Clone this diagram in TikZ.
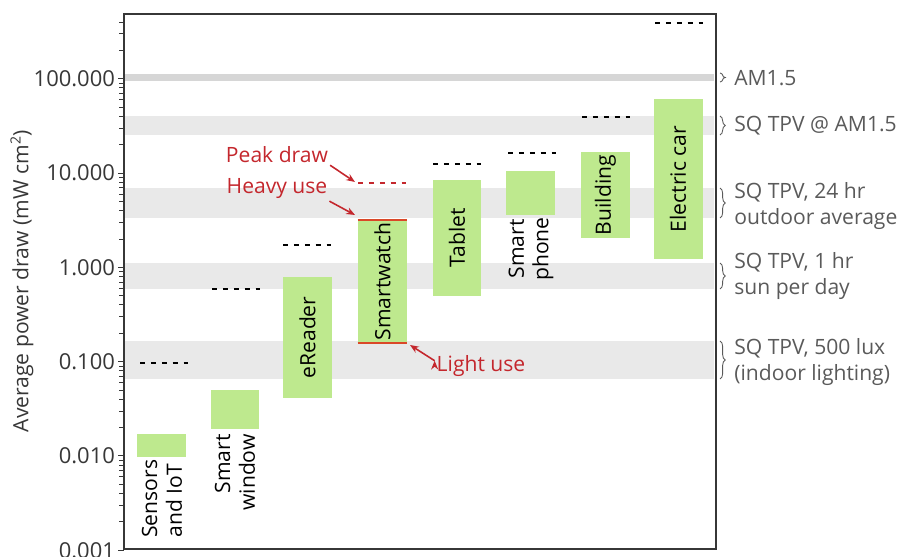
\documentclass[tikz,border=0pt]{standalone}
\usepackage{fontspec}
\setmainfont{Open Sans}
\usepackage{tikz}
\usetikzlibrary{positioning}
\usetikzlibrary{arrows.meta}
\usetikzlibrary{decorations.pathreplacing}
\definecolor{barg}{RGB}{190,233,142}
\definecolor{bandg}{RGB}{233,233,233}
\definecolor{amg}{RGB}{214,214,214}
\definecolor{annot}{RGB}{196,39,45}
\definecolor{usec}{RGB}{218,72,40}
\definecolor{axisg}{RGB}{55,55,55}
\definecolor{labelg}{RGB}{90,90,90}
\tikzstyle{bar}=[fill=barg, rotate=90, inner sep=0pt, minimum height=0.98cm, font=\fontsize{12}{14}\selectfont]
\tikzstyle{lab}=[rotate=90, inner sep=0pt, font=\fontsize{12}{14}\selectfont]
\tikzstyle{peak}=[draw=black, dash pattern=on 2.8pt off 3.4pt, line width=0.7pt]
\tikzstyle{useline}=[draw=usec, line width=1pt]
\tikzstyle{note}=[text=annot, inner sep=1pt, font=\fontsize{12}{14}\selectfont]
\tikzstyle{arr}=[-{Stealth[length=5pt,width=4pt]}, draw=annot, line width=0.9pt]
\tikzstyle{side}=[anchor=west, text=labelg, align=left, inner sep=0pt, font=\fontsize{12}{15}\selectfont]
\tikzstyle{brc}=[draw=labelg, line width=0.5pt, decorate, decoration={brace, amplitude=3pt}]
\def\tpv{SQ TPV}

\begin{document}
\begin{tikzpicture}[x=0.02cm, y=-0.02cm]
      \useasboundingbox (0,0) rectangle (903,557);
      % bands
      \fill[amg] (125,74) rectangle (714,81);
      \fill[bandg] (125,116) rectangle (714,135);
      \fill[bandg] (125,188) rectangle (714,218);
      \fill[bandg] (125,263) rectangle (714,289);
      \fill[bandg] (125,341) rectangle (714,379);

      % axes
      \draw[axisg, line width=0.6pt] (124,14) rectangle (716,549);
      \foreach \v/\t in {2/100.000, 1/10.000, 0/1.000, -1/0.100, -2/0.010, -3/0.001} {
        \draw[axisg, line width=0.5pt] (118,267.3-94.3*\v) -- (124,267.3-94.3*\v);
        \node[anchor=east, text=axisg, inner sep=1pt, font=\fontsize{12.5}{14}\selectfont] at (117,267.3-94.3*\v) {\t};
      }
      \foreach \d in {-3,...,1}
        \foreach \m in {2,...,9}
          \draw[axisg, line width=0.4pt] (119,{267.3-94.3*(\d+log10(\m))}) -- (124,{267.3-94.3*(\d+log10(\m))});
      \foreach \m in {2,3,4}
        \draw[axisg, line width=0.4pt] (119,{267.3-94.3*(2+log10(\m))}) -- (124,{267.3-94.3*(2+log10(\m))});
      \node[rotate=90, text=axisg, font=\fontsize{12}{14}\selectfont] (ylab) at (22,281) {Average power draw (mW cm\textsuperscript{2})};

      % bars
      \node[bar, minimum width=0.46cm] (sens) at (161.5,445.5) {};
      \node[bar, minimum width=0.78cm] (window) at (235,409.5) {};
      \node[bar, minimum width=2.42cm] (ereader) at (307.5,337.5) {eReader};
      \node[bar, minimum width=2.46cm] (watch) at (382.5,281.5) {Smartwatch};
      \node[bar, minimum width=2.32cm] (tablet) at (457,238) {Tablet};
      \node[bar, minimum width=0.88cm] (phone) at (530.5,193) {};
      \node[bar, minimum width=1.72cm] (building) at (605.5,195) {Building};
      \node[bar, minimum width=3.20cm] (car) at (678,179) {Electric car};

      \node[lab, align=left, anchor=west] (senslab) at (162,538) {Sensors\\and IoT};
      \node[lab, align=right, anchor=east] (windowlab) at (235,434) {Smart\\window};
      \node[lab, align=center] (phonelab) at (531,249) {Smart\\phone};

      % peak draw
      \draw[peak] (140,363) -- (190,363);
      \draw[peak] (212,289) -- (262,289);
      \draw[peak] (283,245) -- (333,245);
      \draw[peak, draw=annot] (358,183) -- (408,183);
      \draw[peak] (433,164) -- (483,164);
      \draw[peak] (508,153) -- (557,153);
      \draw[peak] (582,117) -- (630,117);
      \draw[peak] (655,23) -- (705,23);

      \draw[useline] (watch.north east) -- (watch.south east);
      \draw[useline] (watch.north west) -- (watch.south west);

      \node[note] (peakn) at (277,155) {Peak draw};
      \node[note] (heavyn) at (277,189) {Heavy use};
      \node[note] (lightn) at (481,366) {Light use};
      \coordinate (peaktip) at (355,182);
      \coordinate (heavytip) at (355,215);
      \coordinate (lighttip) at (410,345);
      \path[arr] (peakn.south east) edge (peaktip)
                 (heavyn.south east) edge (heavytip)
                 ([yshift=3pt]lightn.west) edge (lighttip);

      % light levels
      \draw[brc] (720,73) -- (720,82);
      \draw[brc] (720,116) -- (720,135);
      \draw[brc] (720,188) -- (720,218);
      \draw[brc] (720,263) -- (720,289);
      \draw[brc] (720,341) -- (720,379);
      \node[side] (am) at (734,78) {AM1.5};
      \node[side] (sqam) at (734,126) {\tpv\ @ AM1.5};
      \node[side] (day) at (734,206) {\tpv, 24 hr\\outdoor average};
      \node[side] (sun) at (734,276) {\tpv, 1 hr\\sun per day};
      \node[side] (lux) at (734,362) {\tpv, 500 lux\\(indoor lighting)};
\end{tikzpicture}
\end{document}
